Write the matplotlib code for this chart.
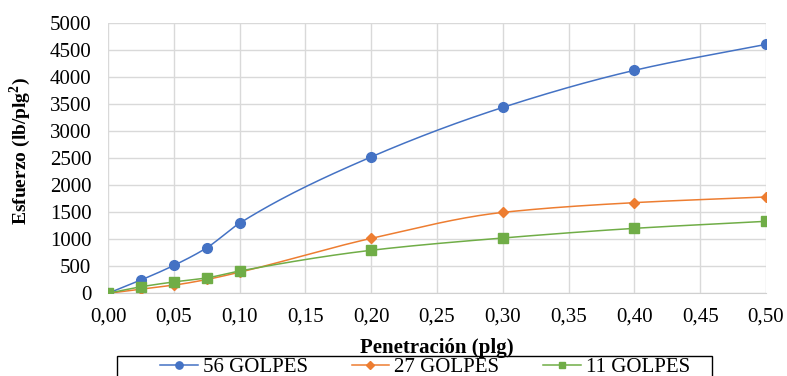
import numpy as np
import matplotlib
matplotlib.use("Agg")
import matplotlib.pyplot as plt
from matplotlib.lines import Line2D
from matplotlib.patches import Rectangle

# Penetration (in) and stress (lb/in^2) for each compaction level
penetracion = [0.0, 0.025, 0.05, 0.075, 0.1, 0.2, 0.3, 0.4, 0.5]
golpes_56 = [0, 245, 515, 840, 1295, 2520, 3435, 4120, 4600]
golpes_27 = [0, 75, 150, 255, 390, 1015, 1495, 1675, 1780]
golpes_11 = [0, 120, 210, 285, 412, 795, 1022, 1200, 1330]
series_labels = ["56 GOLPES", "27 GOLPES", "11 GOLPES"]
x_ticks = [0.0, 0.05, 0.10, 0.15, 0.20, 0.25, 0.30, 0.35, 0.40, 0.45, 0.50]
y_ticks = list(range(0, 5001, 500))

colors = ["#4472C4", "#ED7D31", "#70AD47"]
markers = ["o", "D", "s"]
msizes = [7, 5.5, 6.5]

plt.rcParams["font.family"] = ["Liberation Serif", "DejaVu Serif"]
plt.rcParams["mathtext.fontset"] = "custom"
plt.rcParams["mathtext.bf"] = "Liberation Serif:bold"
plt.rcParams["mathtext.rm"] = "Liberation Serif"


def smooth(xs, ys, n=40):
    """Monotone cubic (Fritsch-Carlson) curve through the points."""
    x = np.asarray(xs, float)
    y = np.asarray(ys, float)
    h = np.diff(x)
    d = np.diff(y) / h
    m = np.zeros_like(y)
    m[0], m[-1] = d[0], d[-1]
    for k in range(1, len(x) - 1):
        if d[k - 1] * d[k] > 0:
            w1 = 2 * h[k] + h[k - 1]
            w2 = h[k] + 2 * h[k - 1]
            m[k] = (w1 + w2) / (w1 / d[k - 1] + w2 / d[k])
    px, py = [], []
    for k in range(len(x) - 1):
        t = np.linspace(0, 1, n)
        if k > 0:
            t = t[1:]
        h00 = 2 * t ** 3 - 3 * t ** 2 + 1
        h10 = t ** 3 - 2 * t ** 2 + t
        h01 = -2 * t ** 3 + 3 * t ** 2
        h11 = t ** 3 - t ** 2
        px.append(x[k] + t * h[k])
        py.append(h00 * y[k] + h10 * h[k] * m[k] + h01 * y[k + 1] + h11 * h[k] * m[k + 1])
    return np.concatenate(px), np.concatenate(py)


W, H = 787, 376
fig = plt.figure(figsize=(W / 100, H / 100), dpi=100)
ax = fig.add_axes([108 / W, 1 - 293.3 / H, (766 - 108) / W, (293.3 - 22.7) / H])

handles = []
for ys, c, m, ms, lab in zip([golpes_56, golpes_27, golpes_11], colors, markers, msizes, series_labels):
    sxs, sys_ = smooth(penetracion, ys)
    ax.plot(sxs, sys_, color=c, lw=1.1, zorder=3)
    ax.plot(penetracion, ys, ls="none", marker=m, ms=ms, color=c, zorder=4)
    handles.append(Line2D([], [], color=c, lw=1.1, marker=m, ms=ms * 0.75, label=lab))

ax.set_xlim(0, 0.5)
ax.set_ylim(0, 5000)
ax.set_xticks(x_ticks)
ax.set_xticklabels([f"{v:.2f}".replace(".", ",") for v in x_ticks])
ax.set_yticks(y_ticks)
ax.grid(True, color="#d9d9d9", lw=1.0)
ax.set_axisbelow(True)
for s in ["top", "right", "left"]:
    ax.spines[s].set_visible(False)
ax.spines["bottom"].set_color("#d0d0d0")
ax.tick_params(axis="both", length=0, labelsize=15)
ax.tick_params(axis="y", pad=12)
ax.tick_params(axis="x", pad=10)

ax.set_xlabel("Penetración (plg)", fontsize=15, fontweight="bold", va="baseline")
ax.xaxis.set_label_coords(0.5, (293.3 - 353) / 270.6)
ax.set_ylabel("Esfuerzo (lb/plg$^{\\mathbf{2}}$)", fontsize=14, fontweight="bold")
ax.yaxis.set_label_coords((33 - 108) / 658, 0.525)

leg = fig.legend(handles=handles, loc="center", ncol=3, frameon=False,
                 bbox_to_anchor=(425 / W, 1 - 367 / H), fontsize=15,
                 handlelength=1.8, handletextpad=0.25, columnspacing=2.1,
                 borderpad=0, borderaxespad=0)
fig.patches.append(Rectangle((117 / W, -0.05), (712 - 117) / W, (376 - 355.5) / H + 0.05,
                             transform=fig.transFigure, fill=False,
                             edgecolor="black", lw=1.0))

fig.savefig("out.png", dpi=100)
